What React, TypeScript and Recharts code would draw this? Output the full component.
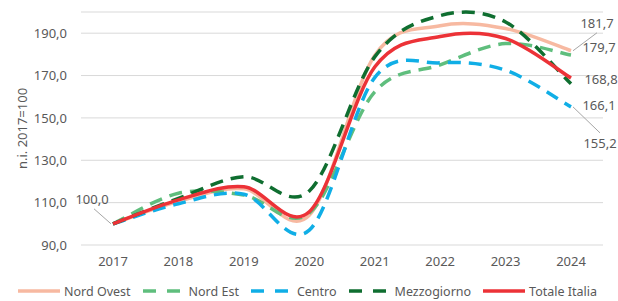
import React from 'react';
import {
  LineChart,
  Line,
  XAxis,
  YAxis,
  CartesianGrid,
  Legend,
} from 'recharts';

const years = ['2017', '2018', '2019', '2020', '2021', '2022', '2023', '2024'];
const nordOvest = [100, 110.6, 116.5, 104, 179.5, 193.5, 192.2, 181.7];
const nordEst = [100, 114.4, 113.6, 105, 162.3, 175, 185.1, 179.7];
const centro = [100, 109.5, 114, 97, 169, 176, 172.5, 155.2];
const mezzogiorno = [100, 112, 122.2, 115.5, 178.8, 198.3, 195.3, 166.1];
const totaleItalia = [100, 111.3, 117.5, 105.7, 174, 188.4, 187.5, 168.8];
const yTicks = [90, 110, 130, 150, 170, 190];

const data = years.map((year, i) => ({
  year,
  nordOvest: nordOvest[i],
  nordEst: nordEst[i],
  centro: centro[i],
  mezzogiorno: mezzogiorno[i],
  totaleItalia: totaleItalia[i],
}));

const FONT = '"Noto Sans", sans-serif';
const TEXT = '#595959';
const LEADER = '#a6a6a6';

const series = [
  { key: 'nordOvest', name: 'Nord Ovest', color: '#f7b9a1', dash: undefined },
  { key: 'nordEst', name: 'Nord Est', color: '#5fbe7d', dash: '13 8' },
  { key: 'centro', name: 'Centro', color: '#10aee6', dash: '13 8' },
  { key: 'mezzogiorno', name: 'Mezzogiorno', color: '#0f6e30', dash: '13 8' },
  { key: 'totaleItalia', name: 'Totale Italia', color: '#ec3237', dash: undefined },
];

// where each data label sits relative to its point (dx, dy), plus optional leader line
const labelSpots: Record<string, { index: number; dx: number; dy: number; leader?: boolean }[]> = {
  nordOvest: [{ index: 7, dx: 26, dy: -28, leader: true }],
  nordEst: [{ index: 7, dx: 28, dy: -8 }],
  centro: [{ index: 7, dx: 29, dy: 36, leader: true }],
  mezzogiorno: [{ index: 7, dx: 28, dy: 21 }],
  totaleItalia: [
    { index: 7, dx: 30, dy: 1 },
    { index: 0, dx: -21, dy: -25, leader: true },
  ],
};

const fmt = (v: number) => v.toFixed(1).replace('.', ',');

// Excel-like smoothing (Catmull-Rom through every point)
const excelSmooth = (context: any) => {
  let pts: number[][] = [];
  return {
    areaStart() {},
    areaEnd() {},
    lineStart() {
      pts = [];
    },
    point(x: number, y: number) {
      pts.push([+x, +y]);
    },
    lineEnd() {
      if (!pts.length) return;
      context.moveTo(pts[0][0], pts[0][1]);
      for (let i = 0; i < pts.length - 1; i++) {
        const p0 = pts[i - 1] || pts[i];
        const p1 = pts[i];
        const p2 = pts[i + 1];
        const p3 = pts[i + 2] || p2;
        context.bezierCurveTo(
          p1[0] + (p2[0] - p0[0]) / 6,
          p1[1] + (p2[1] - p0[1]) / 6,
          p2[0] - (p3[0] - p1[0]) / 6,
          p2[1] - (p3[1] - p1[1]) / 6,
          p2[0],
          p2[1]
        );
      }
    },
  };
};

const makeLabel = (key: string) => (props: any) => {
  const { x, y, index, value } = props;
  const spot = labelSpots[key]?.find((s) => s.index === index);
  if (!spot) return null;
  const tx = x + spot.dx;
  const ty = y + spot.dy;
  let leader = null;
  if (spot.leader) {
    const sx = spot.dx > 0 ? x + 2 : x - 2;
    const ex = spot.dx > 0 ? tx : tx + 2;
    const ey = spot.dy < 0 ? ty + 10 : ty - 10;
    leader = <line x1={sx} y1={y} x2={ex} y2={ey} stroke={LEADER} strokeWidth={1} />;
  }
  return (
    <g key={`${key}-${index}`}>
      {leader}
      <text
        x={tx}
        y={ty}
        textAnchor="middle"
        dominantBaseline="central"
        fontFamily={FONT}
        fontSize={13}
        fill={TEXT}
      >
        {fmt(value)}
      </text>
    </g>
  );
};

const LegendContent = () => (
  <div
    style={{
      display: 'flex',
      justifyContent: 'center',
      alignItems: 'center',
      height: 20,
      paddingLeft: 12,
      fontFamily: FONT,
      fontSize: 12.5,
      color: TEXT,
      gap: 12,
    }}
  >
    {series.map((s) => (
      <div key={s.key} style={{ display: 'flex', alignItems: 'center', gap: 4 }}>
        <svg width={42} height={6}>
          <line
            x1={0}
            y1={3}
            x2={42}
            y2={3}
            stroke={s.color}
            strokeWidth={3.5}
            strokeDasharray={s.dash ? '13 11' : undefined}
          />
        </svg>
        <span>{s.name}</span>
      </div>
    ))}
  </div>
);

const YTitle = (props: any) => {
  const { viewBox } = props;
  const cx = 22;
  const cy = viewBox.y + viewBox.height / 2;
  return (
    <text
      x={cx}
      y={cy}
      transform={`rotate(-90 ${cx} ${cy})`}
      textAnchor="middle"
      dominantBaseline="central"
      fontFamily={FONT}
      fontSize={13}
      fill={TEXT}
    >
      n.i. 2017=100
    </text>
  );
};

export default function App() {
  return (
    <div style={{ position: 'absolute', left: 0, top: 0, background: '#fff' }}>
      <LineChart
        width={618}
        height={301}
        data={data}
        margin={{ top: 12, right: 15, bottom: 0, left: 0 }}
      >
        <CartesianGrid vertical={false} stroke="#d9d9d9" strokeWidth={1} />
        <XAxis
          dataKey="year"
          axisLine={false}
          tickLine={false}
          tickMargin={6}
          height={36}
          padding={{ left: 32, right: 32 }}
          tick={{ fontFamily: FONT, fontSize: 13, fill: TEXT }}
        />
        <YAxis
          domain={[90, 200]}
          ticks={yTicks}
          width={81}
          axisLine={false}
          tickLine={false}
          tickMargin={8}
          tickFormatter={fmt}
          tick={{ fontFamily: FONT, fontSize: 13, fill: TEXT }}
          label={<YTitle />}
        />
        <Legend verticalAlign="bottom" height={20} content={<LegendContent />} />
        {series.map((s) => (
          <Line
            key={s.key}
            dataKey={s.key}
            name={s.name}
            type={excelSmooth as any}
            stroke={s.color}
            strokeWidth={3.5}
            strokeDasharray={s.dash}
            dot={false}
            activeDot={false}
            isAnimationActive={false}
            label={makeLabel(s.key)}
          />
        ))}
      </LineChart>
    </div>
  );
}
